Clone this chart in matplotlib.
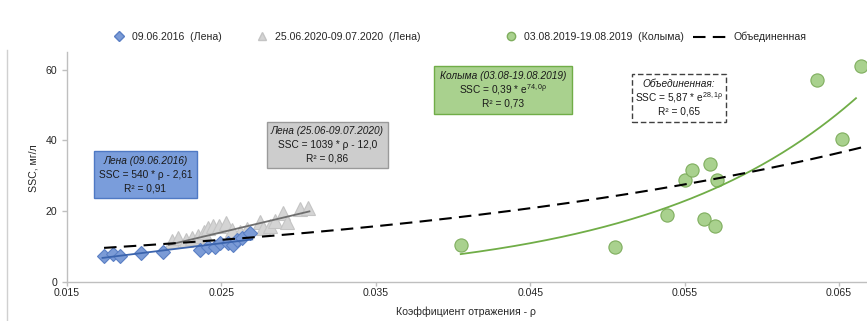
import numpy as np
import matplotlib
matplotlib.use("Agg")
import matplotlib.pyplot as plt
from matplotlib import font_manager
from matplotlib.lines import Line2D
from matplotlib.patches import Rectangle

# ---- data -------------------------------------------------------------
lena2016_rho = [0.01740, 0.01798, 0.01843, 0.01979, 0.02122, 0.02361, 0.02413,
                0.02459, 0.02491, 0.02543, 0.02575, 0.02601, 0.02633, 0.02685]
lena2016_ssc = [7.3, 7.8, 7.3, 8.1, 8.4, 9.0, 9.8, 9.8, 10.9, 10.9, 10.4, 11.8, 12.3, 13.8]

lena2020_rho = [0.02180, 0.02219, 0.02271, 0.02310, 0.02348, 0.02387, 0.02413,
                0.02446, 0.02484, 0.02530, 0.02569, 0.02620, 0.02666, 0.02750,
                0.02769, 0.02815, 0.02847, 0.02899, 0.02925, 0.03009, 0.03061]
lena2020_ssc = [11.5, 12.3, 11.8, 12.3, 12.9, 14.0, 15.2, 15.7, 15.7, 16.6, 14.6,
                14.0, 14.9, 16.9, 15.2, 15.7, 17.1, 19.4, 16.9, 20.5, 20.8]

kolyma_rho = [0.04052, 0.05049, 0.05386, 0.05502, 0.05548, 0.05664, 0.05710,
              0.05626, 0.05697, 0.06358, 0.06520, 0.06643]
kolyma_ssc = [10.4, 9.8, 18.8, 28.7, 31.6, 33.2, 28.7, 17.7, 15.7, 57.0, 40.3, 60.9]

# regression coefficients
lena2016_fit = (540.0, -2.61)      # SSC = a*rho + b
lena2020_fit = (1039.0, -12.0)
kolyma_fit = (0.39, 74.0)          # SSC = a*exp(k*rho)
combined_fit = (5.87, 28.1)

lena2016_range = (0.0173, 0.0270)
lena2020_range = (0.0216, 0.0307)
kolyma_range = (0.0405, 0.0661)
combined_range = (0.0174, 0.0668)

legend_labels = ["09.06.2016  (Лена)", "25.06.2020-09.07.2020  (Лена)",
                 "03.08.2019-19.08.2019  (Колыма)", "Объединенная"]
x_ticks = [0.015, 0.025, 0.035, 0.045, 0.055, 0.065]
y_ticks = [0, 20, 40, 60]

# ---- fonts ------------------------------------------------------------
installed = {f.name for f in font_manager.fontManager.ttflist}
base = "Liberation Sans Narrow" if "Liberation Sans Narrow" in installed else "Liberation Sans"
plt.rcParams["font.family"] = [base, "DejaVu Sans"]
plt.rcParams["mathtext.fontset"] = "custom"
plt.rcParams["mathtext.rm"] = base
plt.rcParams["mathtext.it"] = base + ":italic"

TXT = "#262626"
AX = "#bfbfbf"
FS = 7.6
BOX_FS = 7.3

W, H = 867, 321
fig = plt.figure(figsize=(W / 100, H / 100), dpi=100)
ax = fig.add_axes([67 / W, 1 - 281.7 / H, (W - 67) / W, (281.7 - 52) / H])

# ---- scatter ----------------------------------------------------------
ax.plot(lena2020_rho, lena2020_ssc, ls="none", marker="^", ms=9.5,
        mfc="#d4d4d4", mec="#c4c4c4", mew=0.8, zorder=3)
ax.plot(lena2016_rho, lena2016_ssc, ls="none", marker="D", ms=7.5,
        mfc="#7b9bd6", mec="#5a7fc4", mew=0.8, zorder=4)
ax.plot(kolyma_rho, kolyma_ssc, ls="none", marker="o", ms=9.5,
        mfc="#a9d18e", mec="#7fae5e", mew=0.8, zorder=4, clip_on=False)

# ---- trend lines ------------------------------------------------------
r = np.linspace(*lena2016_range, 50)
ax.plot(r, lena2016_fit[0] * r + lena2016_fit[1], color="#3b64ad", lw=1.3, zorder=5)
r = np.linspace(*lena2020_range, 50)
ax.plot(r, lena2020_fit[0] * r + lena2020_fit[1], color="#6e6e6e", lw=1.3, zorder=5)
r = np.linspace(*kolyma_range, 200)
ax.plot(r, kolyma_fit[0] * np.exp(kolyma_fit[1] * r), color="#70ad47", lw=1.3, zorder=5)
r = np.linspace(*combined_range, 200)
ax.plot(r, combined_fit[0] * np.exp(combined_fit[1] * r), color="black", lw=1.5,
        ls=(0, (6, 3.5)), zorder=6, clip_on=False)

# ---- axes -------------------------------------------------------------
ax.set_xlim(0.015, 0.015 + (W - 67) / 15440)
ax.set_ylim(0, 65)
ax.set_xticks(x_ticks)
ax.set_xticklabels([f"{t:.3f}" for t in x_ticks])
ax.set_yticks(y_ticks)
for s in ("top", "right"):
    ax.spines[s].set_visible(False)
for s in ("left", "bottom"):
    ax.spines[s].set_color(AX)
    ax.spines[s].set_linewidth(1.0)
ax.tick_params(colors=AX, labelcolor=TXT, labelsize=FS, length=3, width=1.0)
ax.tick_params(axis="x", pad=1.5)
ax.tick_params(axis="y", pad=3.5, length=3.5)
ax.set_facecolor("none")

fig.text(466 / W, 1 - 312 / H, "Коэффициент отражения - ρ", ha="center", va="center",
         fontsize=FS, color=TXT)
fig.text(33 / W, 1 - 168 / H, "SSC, мг/л", ha="center", va="center", rotation=90,
         fontsize=FS, color=TXT)

# left border of the chart area
fig.add_artist(Line2D([7 / W, 7 / W], [0, 1 - 50 / H], transform=fig.transFigure,
                      color="#d0d0d0", lw=1.0))

# ---- legend -----------------------------------------------------------
handles = [
    Line2D([], [], ls="none", marker="D", ms=5, mfc="#7b9bd6", mec="#5a7fc4"),
    Line2D([], [], ls="none", marker="^", ms=6, mfc="#d4d4d4", mec="#c4c4c4"),
    Line2D([], [], ls="none", marker="o", ms=6, mfc="#a9d18e", mec="#7fae5e"),
    Line2D([], [], color="black", lw=1.5, ls=(0, (6, 3.5))),
]
leg_x = [112, 255, 504, 693]
for h, lab, x0, hl in zip(handles, legend_labels, leg_x, [1.3, 1.3, 1.3, 3.2]):
    fig.legend(handles=[h], labels=[lab], loc="center left",
               bbox_to_anchor=(x0 / W, 1 - 37 / H), frameon=False,
               fontsize=FS, handlelength=hl, handletextpad=0.6,
               borderaxespad=0, borderpad=0, labelcolor=TXT)

# ---- equation boxes ---------------------------------------------------
def eq_box(cx, cy, w, h, face, edge, lines, ls="-"):
    fig.add_artist(Rectangle(((cx - w / 2) / W, 1 - (cy + h / 2) / H), w / W, h / H,
                             transform=fig.transFigure, facecolor=face,
                             edgecolor=edge, lw=1.0, linestyle=ls, zorder=10))
    for i, (txt, style) in enumerate(lines):
        fig.text(cx / W, 1 - (cy + (i - 1) * 14.0) / H, txt, ha="center", va="center",
                 fontsize=BOX_FS, style=style, color="#1a1a1a", zorder=11)

eq_box(145.5, 174.5, 103, 47, "#7a9ddb", "#4f79c4",
       [("Лена (09.06.2016)", "italic"), ("SSC = 540 * ρ - 2,61", "normal"),
        ("R² = 0,91", "normal")])
eq_box(327.5, 145, 121, 46, "#cdcdcd", "#9a9a9a",
       [("Лена (25.06-09.07.2020)", "italic"), ("SSC = 1039 * ρ - 12,0", "normal"),
        ("R² = 0,86", "normal")])
eq_box(503, 90, 138, 48, "#a9d18e", "#70ad47",
       [("Колыма (03.08-19.08.2019)", "italic"),
        (r"SSC = 0,39 * e$^{\mathregular{74,0ρ}}$", "normal"),
        ("R² = 0,73", "normal")])
eq_box(679, 98, 94, 48, "white", "#404040",
       [("Объединенная:", "italic"),
        (r"SSC = 5,87 * e$^{\mathregular{28,1ρ}}$", "normal"),
        ("R² = 0,65", "normal")], ls=(0, (4, 2)))

fig.savefig("out.png", dpi=100)
